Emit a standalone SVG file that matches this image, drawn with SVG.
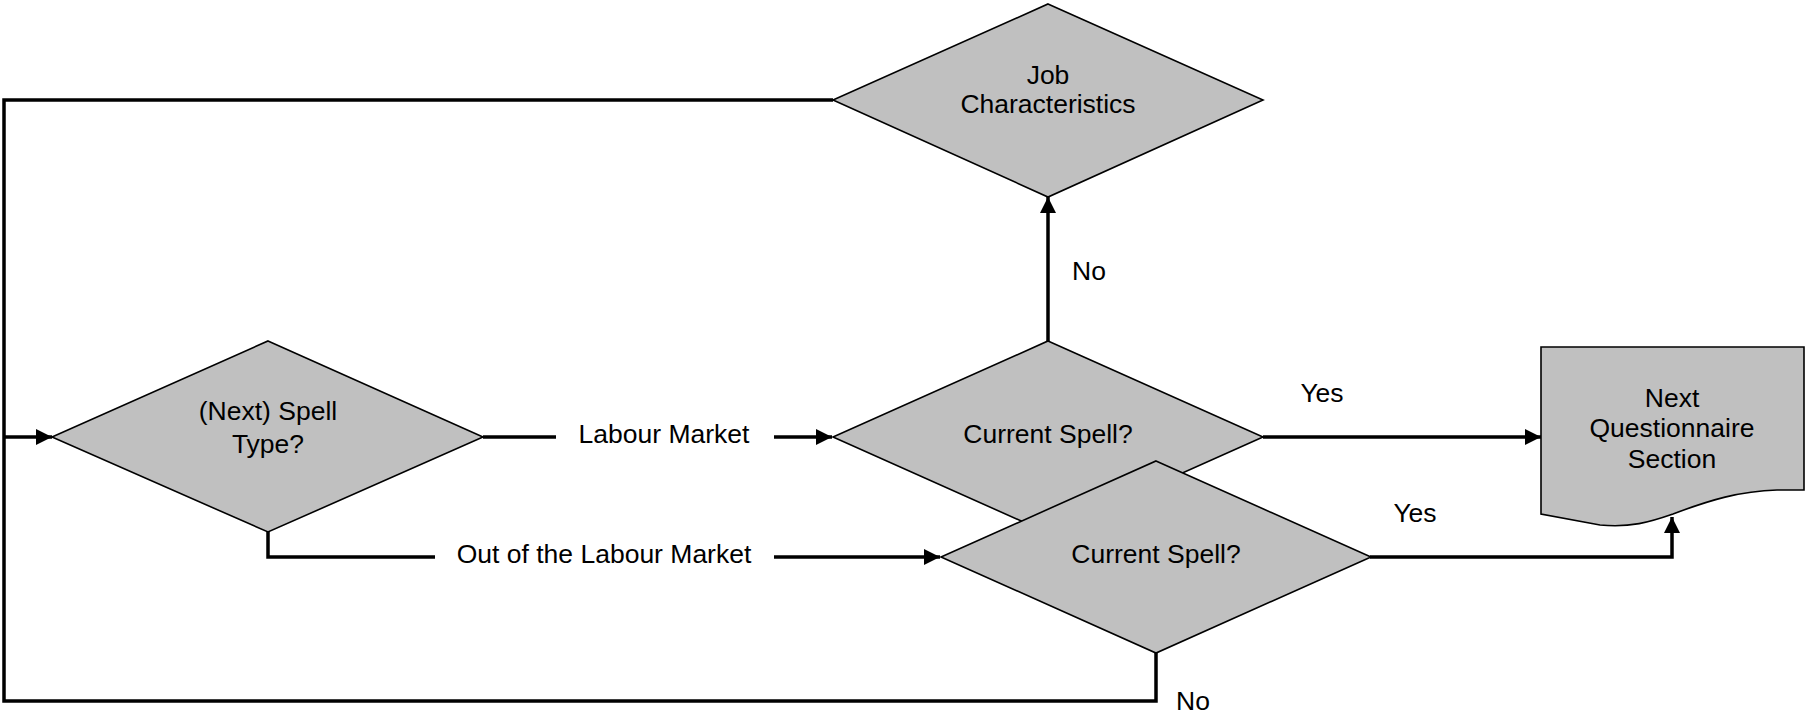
<svg xmlns="http://www.w3.org/2000/svg" width="1805" height="715" viewBox="0 0 1805 715">
<style>
.node{fill:#c0c0c0;stroke:#000;stroke-width:1.6;stroke-linejoin:miter}
.conn{fill:none;stroke:#000;stroke-width:3.5}
.nt{font-family:"Liberation Sans",Arial,sans-serif;font-size:26.5px;fill:#000;text-anchor:middle}
.lt{font-family:"Liberation Sans",Arial,sans-serif;font-size:26.5px;fill:#000;text-anchor:middle}
.yt{font-family:"Liberation Sans",Arial,sans-serif;font-size:26.5px;fill:#000;text-anchor:middle}
</style>
<defs>
<marker id="arr" markerUnits="userSpaceOnUse" markerWidth="16" markerHeight="16" viewBox="0 0 16 16" refX="16" refY="8" orient="auto">
<path d="M0,0 L16,8 L0,16 Z" fill="#000"/>
</marker>
</defs>
<rect width="1805" height="715" fill="#fff"/>
<g id="connectors">
<polyline class="conn" points="833,100 4,100 4,701 1156,701 1156,653"/>
<line class="conn" x1="4" y1="437" x2="52" y2="437" marker-end="url(#arr)"/>
<line class="conn" x1="483" y1="437" x2="556" y2="437"/>
<line class="conn" x1="774" y1="437" x2="832" y2="437" marker-end="url(#arr)"/>
<polyline class="conn" points="268,532 268,557 435,557"/>
<line class="conn" x1="774" y1="557" x2="940" y2="557" marker-end="url(#arr)"/>
<line class="conn" x1="1048" y1="341" x2="1048" y2="197" marker-end="url(#arr)"/>
<line class="conn" x1="1263" y1="437" x2="1541" y2="437" marker-end="url(#arr)"/>
<polyline class="conn" points="1370,557 1672,557 1672,517" marker-end="url(#arr)"/>
<text class="lt" x="664" y="443">Labour Market</text>
<text class="lt" x="604" y="563">Out of the Labour Market</text>
<text class="yt" x="1089" y="280">No</text>
<text class="yt" x="1322" y="402">Yes</text>
<text class="yt" x="1415" y="522">Yes</text>
<text class="yt" x="1193" y="710">No</text>
</g>
<g id="spell-type">
<polygon class="node" points="268,341 483,437 268,532 52,437"/>
<text class="nt" x="268" y="420">(Next) Spell</text>
<text class="nt" x="268" y="453">Type?</text>
</g>
<g id="job-characteristics">
<polygon class="node" points="1048,4 1263,100 1048,197 833,100"/>
<text class="nt" x="1048" y="84">Job</text>
<text class="nt" x="1048" y="113">Characteristics</text>
</g>
<g id="current-spell-1">
<polygon class="node" points="1048,341 1263,437 1048,533 833,437"/>
<text class="nt" x="1048" y="443">Current Spell?</text>
</g>
<g id="current-spell-2">
<polygon class="node" points="1156,461 1371,557 1156,653 941,557"/>
<text class="nt" x="1156" y="563">Current Spell?</text>
</g>
<g id="next-section">
<path class="node" d="M1541,347 L1804,347 L1804,490 L1777,490 C1740,491 1710,500 1673,514 C1650,522 1630,528 1600,525 L1541,514 Z"/>
<text class="nt" x="1672" y="407">Next</text>
<text class="nt" x="1672" y="437">Questionnaire</text>
<text class="nt" x="1672" y="468">Section</text>
</g>
</svg>
